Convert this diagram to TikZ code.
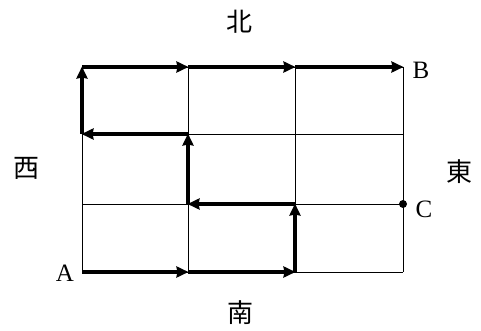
\documentclass[tikz,border=0pt]{standalone}
\usepackage{fontspec}
\setmainfont{Liberation Serif}
\newfontfamily\cjk{Noto Sans CJK JP}
\usetikzlibrary{arrows.meta}
\tikzset{
  grid/.style={line width=0.9pt, black},
  route/.style={line width=3.2pt, black, -{Stealth[length=12pt,width=11pt,inset=1pt]}, shorten >=-0.5pt},
  lbl/.style={font=\fontsize{25}{25}\selectfont, inner sep=0pt},
  dir/.style={font=\cjk\fontsize{26}{26}\selectfont, inner sep=0pt}
}
\begin{document}
\begin{tikzpicture}[x=1pt,y=-1pt]
\useasboundingbox (0,0) rectangle (481,331);
% grid points
\foreach \i/\x in {0/82,1/188,2/295,3/403}{
  \foreach \j/\y in {0/67,1/134,2/204,3/272}{
    \coordinate (p\i\j) at (\x,\y);
  }
}
% grid lines
\foreach \i in {0,1,2,3}{ \draw[grid] (p\i0) -- (p\i3); }
\foreach \j in {0,1,2,3}{ \draw[grid] (p0\j) -- (p3\j); }
% route
\draw[route] (p03) -- (p13);
\draw[route] (p13) -- (p23);
\draw[route] (p23) -- (p22);
\draw[route] (p22) -- (p12);
\draw[route] (p12) -- (p11);
\draw[route] (p11) -- (p01);
\draw[route] (p01) -- (p00);
\draw[route] (p00) -- (p10);
\draw[route] (p10) -- (p20);
\draw[route] (p20) -- (p30);
% point C
\fill (p32) circle (4pt);
% labels
\node[lbl] (A) at (65,273) {A};
\node[lbl] (B) at (421,70) {B};
\node[lbl] (C) at (424,209) {C};
\node[dir] (N) at (239,22) {北};
\node[dir] (S) at (240,313) {南};
\node[dir] (W) at (26,168) {西};
\node[dir] (E) at (459,172) {東};
\end{tikzpicture}
\end{document}
